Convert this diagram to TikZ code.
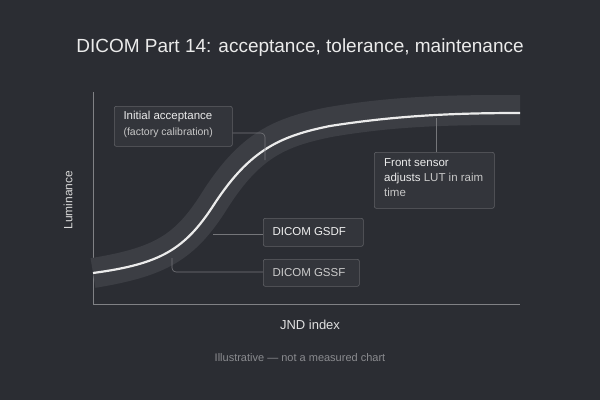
\documentclass[tikz,border=0pt]{standalone}
\usepackage{fontspec}
\setmainfont{Liberation Sans}
\begin{document}
\begin{tikzpicture}[x=1pt,y=-1pt,
 lbl/.style={draw=white!25!bgc,fill=white!4!bgc,rounded corners=2pt,line width=0.6pt,inner sep=0pt,anchor=north west},
 lead/.style={draw=white!35!bgc,line width=0.6pt,rounded corners=4pt}]
\definecolor{bgc}{HTML}{2B2D33}
\definecolor{band}{HTML}{3C3E44}
\fill[bgc] (0,0) rectangle (600,400);
\useasboundingbox (0,0) rectangle (600,400);
\node[text=white!92!black,font=\fontsize{19}{22}\selectfont] (title) at (300,48) {DICOM Part 14: acceptance, tolerance, maintenance};
\coordinate (o) at (93,304);
\coordinate (yt) at (93,92);
\coordinate (xe) at (520,304);
\draw[white!40!bgc,line width=0.8pt] (yt) -- (o) -- (xe);
\draw[band,line width=30pt] (93,273) .. controls (160,262) and (185,248) .. (215,200) .. controls (250,145) and (280,132) .. (330,122) .. controls (400,110) and (460,110) .. (520,110);
\draw[white!92!black,line width=2.2pt] (93,273) .. controls (160,264) and (185,250) .. (215,203) .. controls (250,150) and (280,136) .. (330,126) .. controls (400,115) and (460,113) .. (520,113);
\node[lbl,minimum width=118pt,minimum height=40pt] (ia) at (114,106) {};
\node[anchor=west,text=white!92!black,font=\fontsize{11.5}{13}\selectfont] (iat) at (120,117) {Initial acceptance};
\node[anchor=west,text=white!78!black,font=\fontsize{10.5}{12}\selectfont] (iab) at (120,133) {(factory calibration)};
\node[lbl,minimum width=120pt,minimum height=56pt] (fs) at (374,152) {};
\node[anchor=north west,text=white!92!black,font=\fontsize{11.5}{15}\selectfont,align=left,inner sep=0pt] (fst) at (384,158) {Front sensor\\adjusts {\color{white!78!black}LUT in raim}\\{\color{white!78!black}time}};
\node[lbl,minimum width=100pt,minimum height=28pt] (gd) at (263,218) {};
\node[anchor=west,text=white!94!black,font=\fontsize{11.5}{13}\selectfont] (gdt) at (269,232) {DICOM GSDF};
\node[lbl,minimum width=96pt,minimum height=27pt] (gs) at (263,259) {};
\node[anchor=west,text=white!80!black,font=\fontsize{11.5}{13}\selectfont] (gst) at (269,272.5) {DICOM GSSF};
\coordinate (c1) at (265,160);
\coordinate (c2) at (436,118);
\coordinate (c3) at (213,234);
\coordinate (c4) at (172,258);
\draw[lead] (ia.east |- 0,133) -- (265,133) -- (c1);
\draw[lead] (fs.north -| c2) -- (c2);
\draw[lead] (c3) -- (gd.west |- c3);
\draw[lead] (gs.west |- 0,272) -- (172,272) -- (c4);
\node[rotate=90,text=white!85!black,font=\fontsize{12}{14}\selectfont] (ylab) at (68,200) {Luminance};
\node[text=white!88!black,font=\fontsize{13}{15}\selectfont] (xlab) at (310,325) {JND index};
\node[text=white!45!bgc,font=\fontsize{11}{13}\selectfont] (foot) at (300,358) {Illustrative — not a measured chart};
\end{tikzpicture}
\end{document}
